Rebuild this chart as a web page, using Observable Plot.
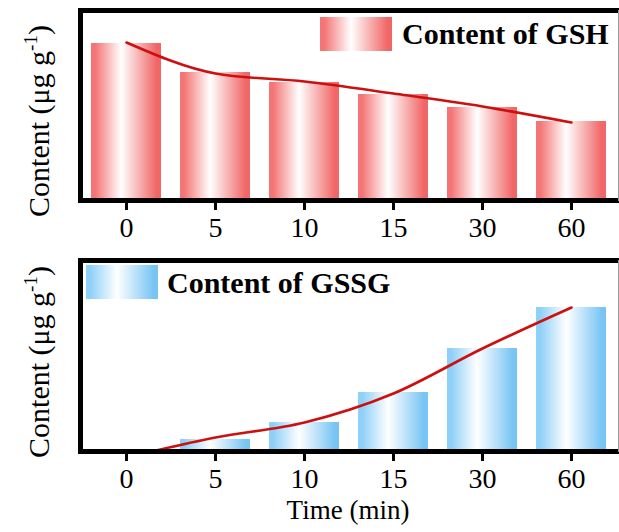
<!DOCTYPE html>
<html>
<head>
<meta charset="utf-8">
<script src="https://cdn.jsdelivr.net/npm/d3@7"></script>
<script src="https://cdn.jsdelivr.net/npm/@observablehq/plot@0.6"></script>
<style>
  html, body { margin: 0; padding: 0; background: #fff; }
  #chart svg { display: block; }
</style>
</head>
<body>
<div id="chart"></div>
<script>
// ---- data ----
const times = ["0", "5", "10", "15", "30", "60"];
const gshValues = [157, 128, 118, 106, 93, 79];
const gshTrend = [158, 127, 119, 107, 94, 78];
const gssgValues = [0, 12, 29, 59, 103, 144];
const gssgTrend = [-6, 14, 29, 58, 103, 144];
const gshLegend = "Content of GSH";
const gssgLegend = "Content of GSSG";
const yLabelMain = "Content (μg g";
const yLabelSup = "-1";
const xLabel = "Time (min)";

const FONT = "'Liberation Serif', 'Times New Roman', serif";

function gradientMark(id, edgeL, edgeR) {
  return () => {
    const defs = d3.create("svg:defs");
    const g = defs.append("linearGradient").attr("id", id)
      .attr("x1", 0).attr("x2", 1).attr("y1", 0).attr("y2", 0);
    g.append("stop").attr("offset", "0%").attr("stop-color", edgeL);
    g.append("stop").attr("offset", "6%").attr("stop-color", edgeL);
    g.append("stop").attr("offset", "43%").attr("stop-color", "#ffffff");
    g.append("stop").attr("offset", "94%").attr("stop-color", edgeR);
    g.append("stop").attr("offset", "100%").attr("stop-color", edgeR);
    return defs.node();
  };
}

function panel({values, trend, gradId, edgeL, edgeR, height, marginBottom, yMax}) {
  const data = times.map((t, i) => ({t, v: values[i], f: trend[i]}));
  return Plot.plot({
    width: 619,
    height,
    marginTop: 10,
    marginBottom,
    marginLeft: 80,
    marginRight: 1,
    style: {fontFamily: FONT, fontSize: "28px", color: "#000", background: "#fff"},
    x: {domain: times, paddingInner: 0.21, paddingOuter: 0.105, label: null},
    y: {domain: [0, yMax], axis: null},
    marks: [
      gradientMark(gradId, edgeL, edgeR),
      Plot.barY(data, {x: "t", y: "v", fill: `url(#${gradId})`}),
      Plot.line(data, {x: "t", y: "f", stroke: "#cc1010", strokeWidth: 2.6, curve: "monotone-x", clip: true}),
      Plot.frame({anchor: "left", stroke: "#000", strokeWidth: 5, strokeLinecap: "square"}),
      Plot.frame({anchor: "top", stroke: "#000", strokeWidth: 5, strokeLinecap: "square"}),
      Plot.frame({anchor: "bottom", stroke: "#000", strokeWidth: 5, strokeLinecap: "square"}),
      Plot.frame({anchor: "right", stroke: "#999", strokeWidth: 1}),
      Plot.axisX({tickSize: 10, tickPadding: 7, strokeWidth: 3, label: null})
    ]
  });
}

function addYLabel(svg, cx, cy) {
  const t = d3.select(svg).append("text")
    .attr("transform", `translate(${cx},${cy}) rotate(-90)`)
    .attr("text-anchor", "middle")
    .attr("font-family", FONT)
    .attr("font-size", 30)
    .attr("fill", "#000");
  t.append("tspan").text(yLabelMain);
  t.append("tspan").attr("font-size", 19).attr("dy", -12).text(yLabelSup);
  t.append("tspan").attr("dy", 12).text(")");
}

function addLegend(svg, x, y, w, h, gradId, label, tx, ty) {
  const s = d3.select(svg);
  s.append("rect").attr("x", x).attr("y", y).attr("width", w).attr("height", h)
    .attr("fill", `url(#${gradId})`);
  s.append("text").attr("x", tx).attr("y", ty)
    .attr("text-anchor", "start")
    .attr("font-family", FONT).attr("font-size", 30).attr("font-weight", "bold")
    .attr("fill", "#000").text(label);
}

const topPanel = panel({values: gshValues, trend: gshTrend, gradId: "gradRed",
  edgeL: "#f47575", edgeR: "#f16666", height: 250, marginBottom: 50, yMax: 190});
addYLabel(topPanel, 49, 121);
addLegend(topPanel, 320, 17, 72, 34, "gradRed", gshLegend, 402, 44);

const bottomPanel = panel({values: gssgValues, trend: gssgTrend, gradId: "gradBlue",
  edgeL: "#8fd0f8", edgeR: "#78c5f4", height: 282, marginBottom: 81, yMax: 191});
addYLabel(bottomPanel, 49, 112);
addLegend(bottomPanel, 86, 15, 72, 34, "gradBlue", gssgLegend, 167, 43);
d3.select(bottomPanel).append("text")
  .attr("x", 348).attr("y", 269)
  .attr("text-anchor", "middle")
  .attr("font-family", FONT).attr("font-size", 27).attr("fill", "#000")
  .text(xLabel);

document.getElementById("chart").append(topPanel, bottomPanel);
</script>
</body>
</html>
